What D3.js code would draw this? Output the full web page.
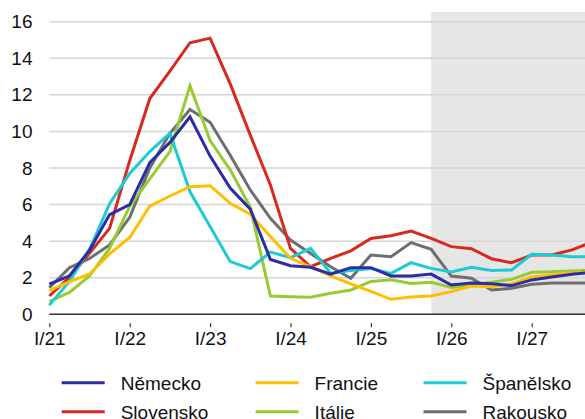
<!DOCTYPE html>
<html>
<head>
<meta charset="utf-8">
<script src="https://cdn.jsdelivr.net/npm/d3@7"></script>
<style>
  html, body { margin: 0; padding: 0; background: #fff; }
  svg { display: block; font-family: "Liberation Sans", Arial, sans-serif; }
</style>
</head>
<body>
<svg id="chart" width="585" height="419"></svg>
<script>
// Quarterly inflation, I/2021 – IV/2027 (forecast shaded from IV/2025)
const quarters = [
  "I/21","II/21","III/21","IV/21","I/22","II/22","III/22","IV/22",
  "I/23","II/23","III/23","IV/23","I/24","II/24","III/24","IV/24",
  "I/25","II/25","III/25","IV/25","I/26","II/26","III/26","IV/26",
  "I/27","II/27","III/27","IV/27"
];
const yTicks = [0, 2, 4, 6, 8, 10, 12, 14, 16];
const forecastStart = "IV/25";

const nemecko    = [1.65, 2.1, 3.5, 5.45, 6.0, 8.3, 9.4, 10.8, 8.65, 6.9, 5.75, 3.0, 2.66, 2.57, 2.2, 2.55, 2.55, 2.1, 2.1, 2.2, 1.6, 1.71, 1.67, 1.57, 1.88, 2.04, 2.19, 2.3];
const francie    = [1.3, 1.78, 2.2, 3.3, 4.2, 5.92, 6.47, 6.98, 7.03, 6.07, 5.47, 4.25, 3.06, 2.6, 2.1, 1.66, 1.25, 0.82, 0.94, 1.0, 1.24, 1.55, 1.5, 1.66, 2.04, 2.16, 2.26, 2.3];
const spanelsko  = [0.5, 1.8, 3.55, 6.05, 7.7, 8.9, 9.9, 6.7, 4.8, 2.88, 2.5, 3.4, 3.1, 3.6, 2.25, 2.4, 2.5, 2.24, 2.82, 2.51, 2.31, 2.57, 2.39, 2.42, 3.28, 3.24, 3.15, 3.15];
const slovensko  = [1.0, 2.0, 3.33, 4.7, 8.4, 11.8, 13.3, 14.85, 15.1, 12.6, 9.8, 7.07, 3.6, 2.6, 3.06, 3.47, 4.15, 4.3, 4.55, 4.15, 3.7, 3.59, 3.04, 2.82, 3.24, 3.24, 3.52, 3.95];
const italie     = [0.7, 1.2, 2.1, 3.6, 5.9, 7.4, 8.9, 12.5, 9.5, 7.9, 5.85, 1.0, 0.96, 0.93, 1.15, 1.33, 1.8, 1.89, 1.69, 1.75, 1.47, 1.6, 1.75, 1.91, 2.3, 2.33, 2.37, 2.4];
const rakousko   = [1.45, 2.55, 3.05, 3.79, 5.3, 8.0, 9.9, 11.2, 10.5, 8.7, 6.8, 5.25, 4.06, 3.33, 2.6, 1.97, 3.24, 3.15, 3.92, 3.55, 2.09, 1.97, 1.33, 1.42, 1.64, 1.71, 1.71, 1.71];

const seriesNames  = ["Německo", "Francie", "Španělsko", "Slovensko", "Itálie", "Rakousko"];
const seriesValues = [nemecko, francie, spanelsko, slovensko, italie, rakousko];
const seriesColors = ["#2b2ca6", "#ffbf00", "#1ecbd2", "#d8291f", "#97cb32", "#6e6e6e"];

const svg = d3.select("#chart");
const W = 585, H = 419;
const plotTop = 12, plotLeft = 49.3;

const x = d3.scaleLinear().domain([0, quarters.length - 1]).range([plotLeft, plotLeft + 20.1 * (quarters.length - 1)]);
const y = d3.scaleLinear().domain([0, 16]).range([314.3, 21.7]);

// forecast band
const fi = quarters.indexOf(forecastStart);
svg.append("rect")
  .attr("x", x(fi)).attr("y", plotTop)
  .attr("width", W - x(fi)).attr("height", y(0) - plotTop)
  .attr("fill", "#e6e6e6");

// horizontal gridlines
svg.append("g").selectAll("line")
  .data(yTicks.filter(d => d > 0))
  .join("line")
  .attr("x1", plotLeft).attr("x2", W)
  .attr("y1", d => y(d)).attr("y2", d => y(d))
  .attr("stroke", "#d6d6d6").attr("stroke-width", 1.5);

// y axis labels
const yAxis = d3.axisLeft(y).tickValues(yTicks).tickSize(0).tickPadding(0);
const gy = svg.append("g").attr("transform", `translate(32.5,0)`).call(yAxis);
gy.select(".domain").remove();
gy.selectAll("text").attr("font-size", 19).attr("fill", "#111")
  .attr("font-family", "Liberation Sans, Arial, sans-serif");

// x axis: yearly ticks below baseline
const yearIdx = quarters.map((q, i) => i).filter(i => quarters[i].startsWith("I/"));
const xAxis = d3.axisBottom(x).tickValues(yearIdx).tickFormat(i => quarters[i]).tickSize(4).tickPadding(4);
const gx = svg.append("g").attr("transform", `translate(0,${y(0) + 9})`).call(xAxis);
gx.select(".domain").remove();
gx.selectAll(".tick line").attr("stroke", "#333").attr("stroke-width", 1.2);
gx.selectAll("text").attr("font-size", 19).attr("fill", "#111")
  .attr("font-family", "Liberation Sans, Arial, sans-serif");

// baseline
svg.append("line")
  .attr("x1", plotLeft).attr("x2", W)
  .attr("y1", y(0)).attr("y2", y(0))
  .attr("stroke", "#333").attr("stroke-width", 1.5);

// series lines (first series drawn last, on top)
const line = d3.line().x((d, i) => x(i)).y(d => y(d));
const order = d3.range(seriesNames.length).reverse();
svg.append("g").selectAll("path")
  .data(order)
  .join("path")
  .attr("d", k => line(seriesValues[k]))
  .attr("fill", "none")
  .attr("stroke", k => seriesColors[k])
  .attr("stroke-width", 3)
  .attr("stroke-linejoin", "miter");

// legend: three columns, two rows
const legendCols = [61.7, 255.6, 423.5];
const legendRows = [382.7, 411.7];
const lg = svg.append("g").selectAll("g")
  .data(seriesNames.map((n, k) => ({ n, k })))
  .join("g")
  .attr("transform", d => `translate(${legendCols[d.k % 3]},${legendRows[Math.floor(d.k / 3)]})`);
lg.append("line")
  .attr("x1", 0).attr("x2", 43)
  .attr("stroke", d => seriesColors[d.k]).attr("stroke-width", 3);
lg.append("text")
  .attr("x", 59).attr("dy", "0.36em")
  .attr("font-size", 19).attr("fill", "#111")
  .text(d => d.n);
</script>
</body>
</html>
